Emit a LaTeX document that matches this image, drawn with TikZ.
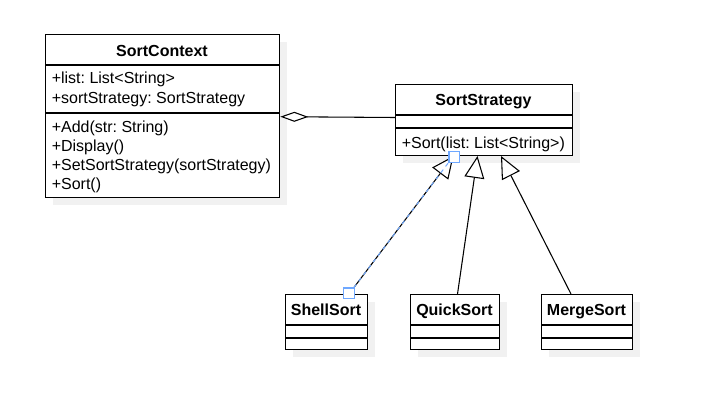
\documentclass[tikz,border=0pt]{standalone}
\usepackage{fontspec}
\setmainfont{Liberation Sans}
\usetikzlibrary{arrows.meta,calc}
\definecolor{shadowgray}{HTML}{F1F1F1}
\definecolor{handleblue}{HTML}{6FA8FF}
\frenchspacing
\begin{document}
\begin{tikzpicture}[x=0.75pt,y=-0.75pt,
  font=\fontsize{12pt}{14.4pt}\selectfont,
  umlbox/.style={draw=black, line width=1pt, fill=white, inner sep=0pt, anchor=north west},
  shadowbox/.style={fill=shadowgray, draw=none},
  sepline/.style={draw=black, line width=1pt},
  classtitle/.style={font=\fontsize{12pt}{14.4pt}\selectfont\bfseries, anchor=base, inner sep=0pt},
  member/.style={anchor=base west, inner sep=0pt},
  inherit/.style={draw=black, line width=0.8pt, -{Triangle[length=16.5pt,width=15pt,fill=white]}},
  aggr/.style={draw=black, line width=0.8pt, {Diamond[length=21pt,width=7.5pt,fill=white]}-},
  handle/.style={draw=handleblue, line width=1pt, fill=white, minimum size=8pt, inner sep=0pt}
]
\useasboundingbox[fill=white] (0,0) rectangle (708,407);

% shadows
\fill[shadowgray] (53,42) rectangle (287,205);
\fill[shadowgray] (403,92) rectangle (580,163);
\fill[shadowgray] (293,302) rectangle (375,357);
\fill[shadowgray] (418,302) rectangle (507,357);
\fill[shadowgray] (549,302) rectangle (640,357);

% SortContext
\node[umlbox, minimum width=175.5pt, minimum height=122.25pt] (ctx) at (45,34) {};
\draw[sepline] (45,65) -- (279,65);
\draw[sepline] (45,113) -- (279,113);
\node[classtitle] (ctxT) at (162,56) {SortContext};
\node[member] (ctxA1) at (51.5,84) {+list: List<String>};
\node[member] (ctxA2) at (51.5,103) {+sortStrategy: SortStrategy};
\node[member] (ctxM1) at (51.5,132) {+Add(str: String)};
\node[member] (ctxM2) at (51.5,151) {+Display()};
\node[member] (ctxM3) at (51.5,170) {+SetSortStrategy(sortStrategy)};
\node[member] (ctxM4) at (51.5,189) {+Sort()};

% SortStrategy
\node[umlbox, minimum width=132.75pt, minimum height=53.25pt] (strat) at (395,84) {};
\draw[sepline] (395,115) -- (572,115);
\draw[sepline] (395,128) -- (572,128);
\node[classtitle] (stratT) at (483.5,105) {SortStrategy};
\node[member] (stratM1) at (401.5,148) {+Sort(list: List<String>)};

% subclasses
\node[umlbox, minimum width=61.5pt, minimum height=41.25pt] (shell) at (285,294) {};
\draw[sepline] (285,325) -- (367,325);
\draw[sepline] (285,338) -- (367,338);
\node[classtitle] (shellT) at (326,315) {ShellSort};

\node[umlbox, minimum width=66.75pt, minimum height=41.25pt] (quick) at (410,294) {};
\draw[sepline] (410,325) -- (499,325);
\draw[sepline] (410,338) -- (499,338);
\node[classtitle] (quickT) at (454.5,315) {QuickSort};

\node[umlbox, minimum width=68.25pt, minimum height=41.25pt] (merge) at (541,294) {};
\draw[sepline] (541,325) -- (632,325);
\draw[sepline] (541,338) -- (632,338);
\node[classtitle] (mergeT) at (586.5,315) {MergeSort};

% aggregation
\draw[aggr] (ctx.east |- 0,116.7) -- (strat.west |- 0,117.5);

% inheritance
\coordinate (tipS) at (453.5,156);
\coordinate (tipQ) at (477.5,156);
\coordinate (tipM) at (501,156);
\coordinate (startS) at (349,294);
\coordinate (startQ) at (457.5,294);
\coordinate (startM) at (571,294);
\draw[inherit] (startS) -- (tipS);
\draw[inherit] (startQ) -- (tipQ);
\draw[inherit] (startM) -- (tipM);

% selection highlight
\draw[handleblue, line width=0.75pt, dash pattern=on 3pt off 3pt, xshift=-0.6pt] (startS) -- (tipS);
\node[handle] (h1) at (349,293.3) {};
\node[handle] (h2) at (454.2,157) {};
\end{tikzpicture}
\end{document}
